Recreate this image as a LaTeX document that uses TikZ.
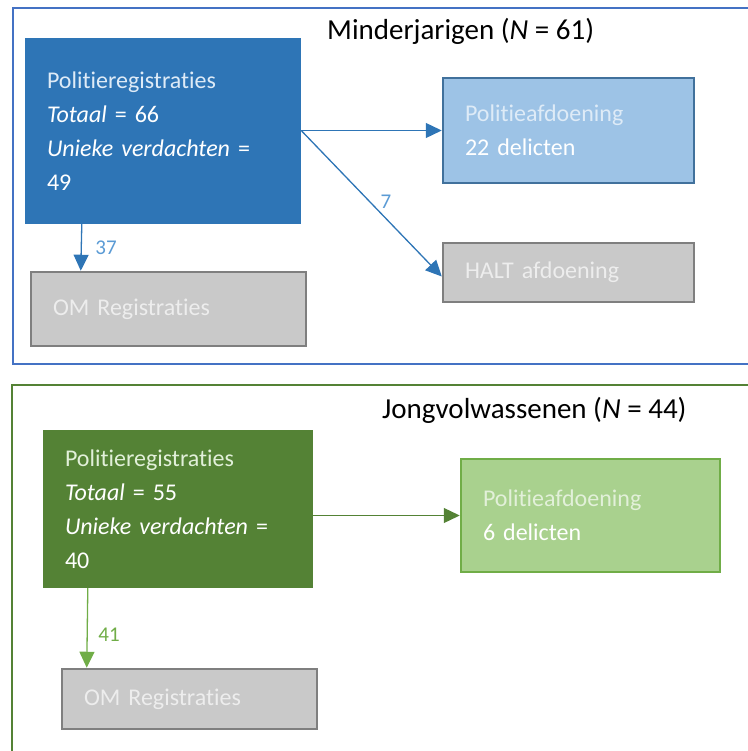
\documentclass[tikz,border=0pt]{standalone}
\usepackage{fontspec}
\setmainfont{Carlito}[Ligatures=NoCommon]
\usetikzlibrary{arrows.meta,positioning,calc}
\definecolor{dblue}{HTML}{2E75B6}
\definecolor{lblue}{HTML}{9DC3E6}
\definecolor{lblueb}{HTML}{41719C}
\definecolor{fblue}{HTML}{4472C4}
\definecolor{tblue}{HTML}{5B9BD5}
\definecolor{pblue}{HTML}{DEEBF7}
\definecolor{dgreen}{HTML}{548235}
\definecolor{lgreen}{HTML}{A9D18E}
\definecolor{lgreenb}{HTML}{70AD47}
\definecolor{pgreen}{HTML}{E2F0D9}
\definecolor{gfill}{HTML}{C9C9C9}
\definecolor{gbord}{HTML}{7F7F7F}
\definecolor{gtext}{HTML}{EDEDED}
\tikzset{
  box/.style={rectangle, inner sep=0pt, align=left, font=\fontsize{24}{34}\selectfont, text=white},
  darkbox/.style={box, fill=#1},
  lightbox/.style={box, fill=#1, line width=2.5pt},
  graybox/.style={box, fill=gfill, draw=gbord, line width=2.5pt, text=gtext},
  frame/.style={line width=2.5pt},
  arr/.style={line width=1.3pt, -{Triangle[length=16pt,width=15pt]}},
  lbl/.style={font=\fontsize{21}{24}\selectfont, inner sep=0pt},
  title/.style={font=\fontsize{29}{34}\selectfont, anchor=west, inner sep=0pt}
}
\begin{document}
\begin{tikzpicture}[x=1pt,y=-1pt]
\useasboundingbox (0,0) rectangle (747,751);
% frames
\draw[frame, draw=fblue] (760,8) -- (13,8) -- (13,364) -- (760,364);
\draw[frame, draw=dgreen] (760,385) -- (12,385) -- (12,770);
% titles
\node[title] (t1) at (327,31) {Minderjarigen (\textit{N} = 61)};
\node[title] (t2) at (382,410) {Jongvolwassenen (\textit{N} = 44)};
% top boxes
\node[darkbox=dblue, minimum width=276pt, minimum height=186pt, text width=232pt] (b1) at (163,131)
  {\textcolor{pblue}{Politieregistraties}\\\textit{Totaal} = 66\\\textit{Unieke verdachten} =\\49};
\node[lightbox=lblue, draw=lblueb, minimum width=251pt, minimum height=105pt, text width=207pt] (pa1) at (568.5,130.5)
  {\textcolor{pblue}{Politieafdoening}\\22 delicten};
\node[graybox, minimum width=251pt, minimum height=59pt, text width=207pt] (halt) at (568.5,272.5)
  {HALT afdoening};
\node[graybox, minimum width=275pt, minimum height=74pt, text width=231pt] (om1) at (168.5,309)
  {OM Registraties};
% top connectors
\draw[arr, draw=dblue, fill=dblue] (b1.east |- pa1.west) -- (pa1.west);
\draw[arr, draw=dblue, fill=dblue] (b1.east |- pa1.west) -- ($(halt.west)+(0,4)$);
\node[lbl, text=tblue] (l7) at (386,202) {7};
\draw[arr, draw=dblue, fill=dblue] ([xshift=57pt]b1.south west) -- ([xshift=51pt]om1.north west);
\node[lbl, text=tblue] (l37) at (106,248) {37};
% bottom boxes
\node[darkbox=dgreen, minimum width=270pt, minimum height=158pt, text width=226pt] (b2) at (178,509)
  {\textcolor{pgreen}{Politieregistraties}\\\textit{Totaal} = 55\\\textit{Unieke verdachten} =\\40};
\node[lightbox=lgreen, draw=lgreenb, minimum width=259pt, minimum height=113pt, text width=215pt] (pa2) at (590.5,515.5)
  {\textcolor{pgreen}{Politieafdoening}\\6 delicten};
\node[graybox, minimum width=255pt, minimum height=60pt, text width=211pt] (om2) at (189.5,699)
  {OM Registraties};
% bottom connectors
\draw[arr, draw=dgreen] (b2.east |- pa2.west) -- (pa2.west);
\draw[arr, draw=lgreenb] ([xshift=45pt]b2.south west) -- ([xshift=26pt]om2.north west);
\node[lbl, text=lgreenb] (l41) at (109,635) {41};
\end{tikzpicture}
\end{document}
